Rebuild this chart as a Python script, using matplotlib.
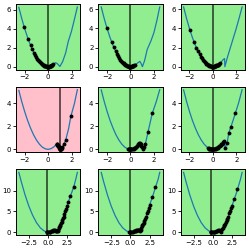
import matplotlib
matplotlib.use('Agg')
import matplotlib.pyplot as plt

# ---- curves -------------------------------------------------------
r1_left_x = [-2.5, -2.25, -2.0, -1.75, -1.5, -1.25, -1.0, -0.75, -0.5, -0.25, 0.0, 0.25, 0.5]
r1_left_y = [6.25, 5.06, 4.0, 3.06, 2.25, 1.56, 1.0, 0.56, 0.25, 0.06, 0.0, 0.1, 0.28]

r1c1_rx = [0.64, 0.8, 1.01, 1.25, 1.5, 1.72, 2.0, 2.25, 2.5]
r1c1_ry = [0.42, 0.3, 0.02, 0.55, 1.45, 2.65, 3.75, 5.0, 6.3]
r1c2_rx = [0.65, 0.8, 0.9, 1.02, 1.2, 1.43, 1.75, 2.0, 2.25, 2.5]
r1c2_ry = [0.42, 0.55, 0.35, 0.0, 0.6, 1.8, 2.7, 3.55, 4.8, 6.25]
r1c3_rx = [0.75, 0.9, 1.0, 1.03, 1.25, 1.5, 1.75, 2.0, 2.25, 2.5]
r1c3_ry = [0.55, 0.75, 0.85, 0.0, 1.0, 2.0, 3.0, 4.0, 5.1, 6.25]

r2_left_x = [-2.5, -2.25, -2.0, -1.75, -1.5, -1.25, -1.0, -0.75, -0.5, -0.25, 0.0, 0.25, 0.5]
r2_left_y = [5.13, 4.15, 3.28, 2.51, 1.85, 1.28, 0.82, 0.46, 0.2, 0.05, 0.0, 0.06, 0.22]

r2c1_rx = [0.75, 0.9, 1.05, 1.25, 1.5, 1.75, 1.95, 2.25, 2.5]
r2c1_ry = [0.5, 0.3, 0.0, 0.2, 0.8, 1.8, 2.9, 4.0, 5.2]
r2c2_rx = [0.74, 0.9, 1.05, 1.28, 1.5, 1.86, 2.2, 2.5]
r2c2_ry = [0.55, 0.35, 0.05, 0.5, 1.5, 3.1, 4.1, 5.15]
r2c3_rx = [0.75, 0.97, 1.05, 1.22, 1.37, 1.55, 1.92, 2.2, 2.5]
r2c3_ry = [0.45, 0.75, 0.1, 0.55, 1.45, 1.95, 3.1, 4.0, 5.15]

r3_left_x = [-3.8, -3.5, -3.0, -2.5, -2.0, -1.5, -1.0, -0.5, 0.0, 0.4]
r3_left_y = [14.4, 12.25, 9.0, 6.25, 4.0, 2.25, 1.0, 0.25, 0.0, 0.15]

r3c1_rx = [0.75, 1.0, 1.2, 1.4, 1.6, 1.8, 2.0, 2.25, 2.5, 2.75, 3.0, 3.33, 3.6, 3.8]
r3c1_ry = [0.55, 0.35, 0.2, 0.9, 1.7, 2.6, 3.6, 4.9, 6.5, 7.9, 9.2, 10.9, 12.8, 14.4]
r3c2_rx = [0.7, 1.0, 1.3, 1.5, 1.8, 2.0, 2.25, 2.5, 2.84, 3.25, 3.6, 3.8]
r3c2_ry = [0.35, 0.6, 0.3, 1.4, 2.6, 3.6, 4.9, 6.6, 8.4, 10.8, 12.8, 14.4]
r3c3_rx = [0.8, 1.0, 1.3, 1.6, 2.0, 2.5, 3.0, 3.3, 3.6, 3.8]
r3c3_ry = [0.5, 0.1, 1.0, 2.0, 3.7, 6.4, 9.1, 10.9, 12.8, 14.4]

# ---- descent paths (dots) -----------------------------------------
p11_x = [-2.04, -1.70, -1.50, -1.35, -1.22, -1.10, -1.00, -0.91, -0.83, -0.75, -0.68, -0.61,
         -0.55, -0.49, -0.43, -0.38, -0.33, -0.28, -0.23, -0.18, -0.13, -0.08, -0.03, 0.02,
         0.07, 0.12, 0.17, 0.22, 0.27, 0.32, 0.37, 0.42, 0.3, 0.15, 0.0]
p11_y = [4.16, 2.89, 2.25, 1.82, 1.49, 1.21, 1.0, 0.83, 0.69, 0.56, 0.46, 0.37,
         0.30, 0.24, 0.18, 0.14, 0.11, 0.08, 0.05, 0.03, 0.02, 0.01, 0.0, 0.0,
         0.01, 0.03, 0.05, 0.08, 0.11, 0.15, 0.19, 0.23, 0.13, 0.04, 0.0]

p12_x = [-2.0, -1.62, -1.43, -1.28, -1.16, -1.05, -0.95, -0.86, -0.78, -0.71, -0.64, -0.58,
         -0.52, -0.46, -0.41, -0.36, -0.31, -0.26, -0.21, -0.16, -0.11, -0.06, -0.01, 0.04,
         0.09, 0.14, 0.19, 0.24, 0.29, 0.35, 0.25, 0.12, 0.0]
p12_y = [4.0, 2.62, 2.04, 1.64, 1.35, 1.1, 0.9, 0.74, 0.61, 0.5, 0.41, 0.34,
         0.27, 0.21, 0.17, 0.13, 0.1, 0.07, 0.04, 0.03, 0.01, 0.0, 0.0, 0.01,
         0.02, 0.04, 0.07, 0.09, 0.12, 0.16, 0.1, 0.03, 0.0]

p13_x = [-1.97, -1.6, -1.4, -1.26, -1.14, -1.03, -0.93, -0.84, -0.76, -0.69, -0.62, -0.56,
         -0.5, -0.44, -0.39, -0.34, -0.29, -0.24, -0.19, -0.14, -0.09, -0.04, 0.01, 0.06,
         0.11, 0.16, 0.21, 0.26, 0.31, 0.36, 0.41, 0.46, 0.51, 0.56, 0.62, 0.4, 0.2, 0.0]
p13_y = [3.88, 2.56, 1.96, 1.59, 1.3, 1.06, 0.86, 0.71, 0.58, 0.48, 0.38, 0.31,
         0.25, 0.19, 0.15, 0.12, 0.08, 0.06, 0.04, 0.02, 0.01, 0.0, 0.0, 0.01,
         0.03, 0.05, 0.08, 0.1, 0.13, 0.16, 0.19, 0.22, 0.26, 0.3, 0.35, 0.18, 0.07, 0.0]

p21_x = [1.95, 1.5, 1.35, 1.22, 1.12, 1.05, 0.98, 0.92, 0.86, 0.8, 0.75, 0.78, 0.83, 0.88,
         0.93, 0.98, 1.03, 1.08, 1.13, 1.17, 1.12, 1.08, 1.05]
p21_y = [2.9, 0.8, 0.45, 0.18, 0.07, 0.0, 0.05, 0.18, 0.3, 0.42, 0.5, 0.46, 0.37, 0.27,
         0.16, 0.06, 0.01, 0.05, 0.1, 0.15, 0.1, 0.05, 0.0]

p22_x = [1.86, 1.5, 1.28, 1.15, 1.05, 0.98, 0.92, 0.86, 0.8, 0.74, 0.68, 0.62, 0.56, 0.5,
         0.44, 0.38, 0.32, 0.26, 0.2, 0.14, 0.08, 0.02, -0.04, -0.1, -0.16, -0.2, -0.14,
         -0.08, -0.02, 0.0]
p22_y = [3.1, 1.5, 0.5, 0.22, 0.05, 0.17, 0.3, 0.42, 0.52, 0.55, 0.45, 0.35, 0.28, 0.22,
         0.17, 0.12, 0.08, 0.06, 0.04, 0.02, 0.01, 0.0, 0.0, 0.01, 0.02, 0.03, 0.02,
         0.01, 0.0, 0.0]

p23_x = [1.92, 1.55, 1.37, 1.22, 1.08, 0.97, 0.9, 0.84, 0.78, 0.72, 0.66, 0.6, 0.54, 0.48,
         0.42, 0.36, 0.3, 0.24, 0.18, 0.12, 0.06, 0.0, -0.06, -0.12, -0.18, -0.24, -0.3,
         -0.36, -0.42, -0.3, -0.18, -0.06, 0.0]
p23_y = [3.1, 1.95, 1.45, 0.55, 0.15, 0.72, 0.62, 0.55, 0.48, 0.42, 0.36, 0.3, 0.25, 0.2,
         0.15, 0.11, 0.08, 0.05, 0.03, 0.01, 0.0, 0.0, 0.0, 0.01, 0.03, 0.05, 0.07,
         0.11, 0.14, 0.07, 0.03, 0.0, 0.0]

p31_x = [3.33, 2.9, 2.62, 2.45, 2.32, 2.2, 2.1, 2.0, 1.92, 1.84, 1.76, 1.68, 1.6, 1.52,
         1.45, 1.38, 1.3, 1.22, 1.15, 1.08, 1.0, 0.9, 0.8, 0.7, 0.6, 0.5, 0.4, 0.3, 0.2,
         0.1, 0.0, -0.1, -0.2, -0.1]
p31_y = [10.9, 8.6, 7.3, 6.3, 5.6, 5.0, 4.4, 3.6, 3.3, 2.9, 2.5, 2.2, 1.7, 1.4,
         1.15, 0.9, 0.55, 0.25, 0.22, 0.28, 0.35, 0.45, 0.55, 0.48, 0.35, 0.25, 0.16, 0.1,
         0.05, 0.02, 0.0, 0.01, 0.04, 0.01]

p32_x = [3.25, 2.84, 2.5, 2.35, 2.22, 2.1, 2.0, 1.9, 1.8, 1.72, 1.64, 1.56, 1.48, 1.4,
         1.33, 1.26, 1.18, 1.1, 1.02, 0.94, 0.86, 0.78, 0.7, 0.6, 0.5, 0.4, 0.3, 0.2, 0.1,
         0.0, -0.1, -0.2, -0.1]
p32_y = [10.8, 8.4, 6.6, 5.8, 5.2, 4.5, 3.6, 3.1, 2.6, 2.3, 2.0, 1.7, 1.35, 1.0,
         0.6, 0.35, 0.4, 0.5, 0.6, 0.55, 0.5, 0.42, 0.35, 0.28, 0.22, 0.16, 0.1, 0.05, 0.02,
         0.0, 0.01, 0.04, 0.01]

p33_x = [3.2, 2.75, 2.5, 2.36, 2.24, 2.12, 2.0, 1.9, 1.8, 1.7, 1.6, 1.5, 1.4, 1.3, 1.2,
         1.1, 1.0, 0.9, 0.8, 0.7, 0.6, 0.5, 0.4, 0.3, 0.2, 0.1, 0.0, -0.1, -0.2, -0.3, -0.25]
p33_y = [10.5, 8.0, 6.4, 5.8, 5.1, 4.5, 3.7, 3.2, 2.8, 2.4, 2.0, 1.65, 1.35, 1.0, 0.7,
         0.4, 0.1, 0.3, 0.5, 0.4, 0.3, 0.22, 0.15, 0.1, 0.05, 0.02, 0.0, 0.01, 0.04, 0.09, 0.06]

# final positions (vertical lines) and outcome
finals = [[0.0, 0.0, 0.0], [1.05, 0.0, 0.0], [-0.1, -0.1, -0.25]]
found_global = [[True, True, True], [False, True, True], [True, True, True]]

row_xticks = [[-2, 0, 2], [-2, 0, 2], [-2.5, 0.0, 2.5]]
row_yticks = [[0, 2, 4, 6], [0, 2, 4], [0, 5, 10]]

lefts = [(r1_left_x, r1_left_y), (r2_left_x, r2_left_y), (r3_left_x, r3_left_y)]
rights = [[(r1c1_rx, r1c1_ry), (r1c2_rx, r1c2_ry), (r1c3_rx, r1c3_ry)],
          [(r2c1_rx, r2c1_ry), (r2c2_rx, r2c2_ry), (r2c3_rx, r2c3_ry)],
          [(r3c1_rx, r3c1_ry), (r3c2_rx, r3c2_ry), (r3c3_rx, r3c3_ry)]]
paths = [[(p11_x, p11_y), (p12_x, p12_y), (p13_x, p13_y)],
         [(p21_x, p21_y), (p22_x, p22_y), (p23_x, p23_y)],
         [(p31_x, p31_y), (p32_x, p32_y), (p33_x, p33_y)]]

fig, axes = plt.subplots(3, 3, figsize=(2.49, 2.49), dpi=100)
fig.subplots_adjust(left=0.064, right=0.984, top=0.984, bottom=0.056, wspace=0.28, hspace=0.26)

for i in range(3):
    for j in range(3):
        ax = axes[i, j]
        lx, ly = lefts[i]
        rx, ry = rights[i][j]
        cx = [x for x in lx if x < rx[0]] + rx
        cy = [y for x, y in zip(lx, ly) if x < rx[0]] + ry
        ax.set_facecolor('lightgreen' if found_global[i][j] else 'pink')
        ax.plot(cx, cy, color='tab:blue', lw=0.9)
        px, py = paths[i][j]
        ax.plot(px, py, 'o', color='k', ms=2.8, mew=0)
        ax.axvline(finals[i][j], color='k', lw=1.2, alpha=0.7)
        ax.set_xticks(row_xticks[i])
        ax.set_yticks(row_yticks[i])
        ax.tick_params(labelsize=5, length=2, width=0.6, pad=1.5)
        for s in ax.spines.values():
            s.set_linewidth(0.7)

plt.savefig('out.png', dpi=100)
